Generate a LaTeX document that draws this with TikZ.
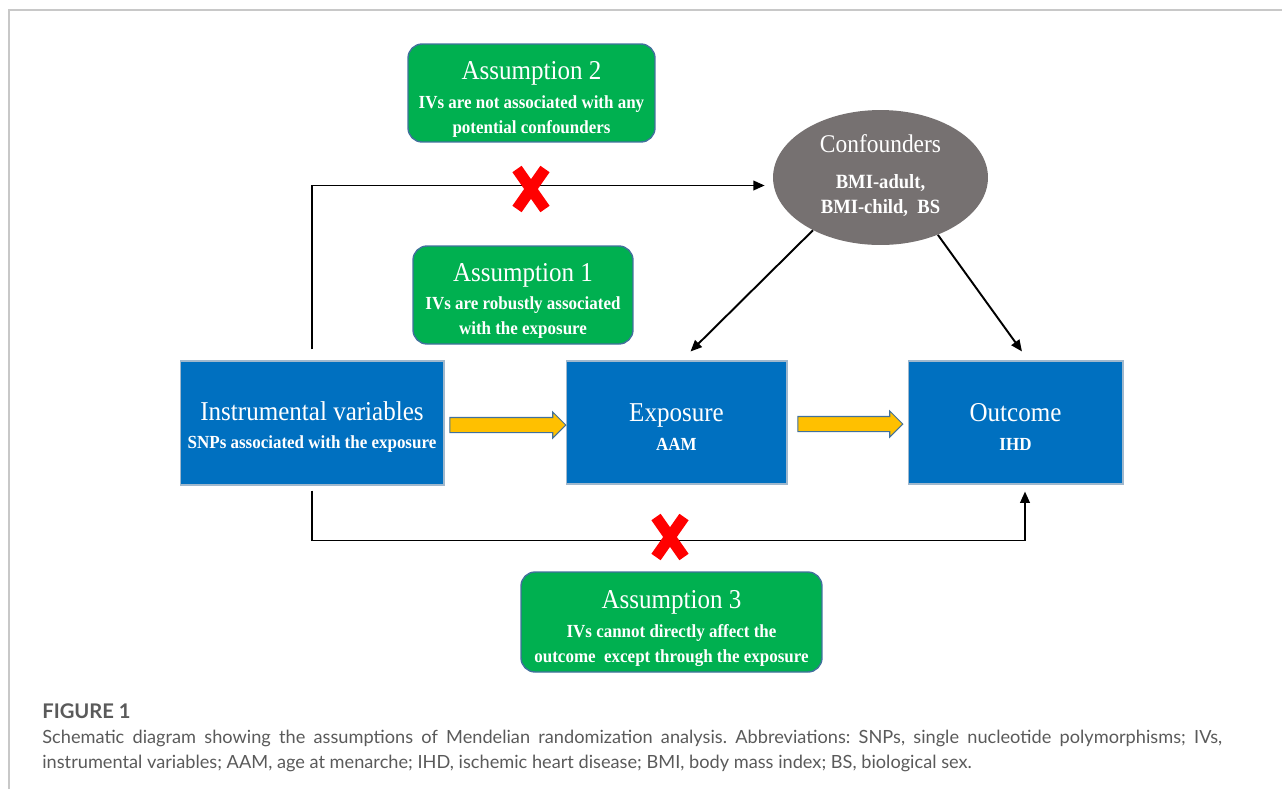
\documentclass[tikz,border=0pt]{standalone}
\usepackage{fontspec}
\setmainfont{Liberation Serif}
\newfontfamily\boxfont[FakeStretch=0.92]{Liberation Serif}
\newfontfamily\capfont{Lato}
\usetikzlibrary{shapes.geometric,shapes.arrows,arrows.meta}
\definecolor{asmgreen}{RGB}{0,176,80}
\definecolor{asmedge}{RGB}{65,113,156}
\definecolor{varblue}{RGB}{0,112,192}
\definecolor{confgray}{RGB}{118,113,113}
\definecolor{fatyellow}{RGB}{255,192,0}
\definecolor{capgray}{RGB}{90,90,90}
\definecolor{framegray}{RGB}{200,200,200}
% title line of a box, the strut lowers the whole text block
\newcommand{\asmtitle}[2][0pt]{{\mdseries\fontsize{15.5}{18}\selectfont\rule{0pt}{#1}#2}}
\frenchspacing
\begin{document}
\begin{tikzpicture}[x=0.02cm,y=-0.02cm,>={Triangle[length=6.5pt,width=5.5pt]},
every node/.style={font=\boxfont},
assum/.style={draw=asmedge,line width=0.8pt,rounded corners=8pt,fill=asmgreen,text=white,align=center,inner sep=0pt,font=\boxfont\bfseries\fontsize{10.5}{14.2}\selectfont},
var/.style={draw=asmedge!50,line width=0.6pt,fill=varblue,text=white,align=center,inner sep=0pt,font=\boxfont\bfseries\fontsize{10.5}{14.2}\selectfont},
conf/.style={ellipse,fill=confgray,text=white,align=center,inner sep=0pt,font=\boxfont\bfseries\fontsize{11.5}{14.2}\selectfont},
link/.style={->,line width=1.1pt},
fat/.style={single arrow,draw=asmedge,fill=fatyellow,inner xsep=0pt,inner ysep=0.14cm,single arrow head extend=0.11cm,line width=0.6pt},
cross/.style={red,line width=6.4pt},
capnote/.style={text=capgray,inner sep=0pt,anchor=base west,font=\capfont\fontsize{10.35}{14}\selectfont}]
\useasboundingbox (0,0) rectangle (1282,789);
\draw[framegray,line width=1.2pt] (9,789) -- (9,10) -- (1282,10);
% assumptions
\node[assum,minimum width=4.94cm,minimum height=1.96cm] (a2) at (531.5,93) {\asmtitle[17.5pt]{Assumption 2}\\[2pt]IVs are not associated with any\\potential confounders};
\node[assum,minimum width=4.4cm,minimum height=1.96cm] (a1) at (523,295) {\asmtitle[17pt]{Assumption 1}\\[2pt]IVs are robustly associated\\with the exposure};
\node[assum,minimum width=6.02cm,minimum height=2cm] (a3) at (671.5,622) {\asmtitle[17.5pt]{Assumption 3}\\[2pt]IVs cannot directly affect the\\outcome\ \ except through the exposure};
% variables
\node[var,minimum width=5.28cm,minimum height=2.48cm] (iv) at (312,423) {\asmtitle[15.3pt]{Instrumental variables}\\[2pt]SNPs associated with the exposure};
\node[var,minimum width=4.42cm,minimum height=2.46cm] (exp) at (676.5,422.5) {\asmtitle[15.3pt]{Exposure}\\[2pt]AAM};
\node[var,minimum width=4.3cm,minimum height=2.46cm] (out) at (1015.5,422.5) {\asmtitle[15.3pt]{Outcome}\\[2pt]IHD};
\node[conf,minimum width=4.3cm,minimum height=2.7cm] (conf) at (880.5,177.5) {{\mdseries\fontsize{14.5}{18}\selectfont Confounders}\\[6pt]BMI-adult,\ \\BMI-child,\ \ BS\rule[-4pt]{0pt}{0pt}};
% yellow arrows
\node[fat,minimum height=2.32cm] (f1) at (504,425) {};
\node[fat,minimum height=2.1cm] (f2) at (846.5,424) {};
% connectors
\draw[link,shorten <=0.22cm] (iv.north) |- ([yshift=-0.16cm,xshift=-0.16cm]conf.west);
\draw[link,shorten <=0.1cm,shorten >=0.14cm] (iv.south) -- ++(0,55) -| ([xshift=0.19cm]out.south);
\draw[link] (conf.218) -- ([xshift=0.28cm,yshift=0.18cm]exp.north);
\draw[link] (conf.315) -- ([xshift=0.13cm,yshift=0.18cm]out.north);
% crosses
\coordinate (x2) at (531,189);
\coordinate (x3) at (670,537);
\draw[cross] (x2) +(-14,-20) -- +(14,20) (x2) +(-14,20) -- +(14,-20);
\draw[cross] (x3) +(-14,-20) -- +(14,20) (x3) +(-14,20) -- +(14,-20);
% caption
\node[capnote,font=\capfont\bfseries\fontsize{11.5}{14}\selectfont] (fig) at (42,718) {FIGURE 1};
\node[capnote] (cap1) at (42,743) {\makebox[23.6cm][s]{Schematic diagram showing the assumptions of Mendelian randomization analysis. Abbreviations: SNPs, single nucleotide polymorphisms; IVs,}};
\node[capnote] (cap2) at (42,768) {instrumental variables; AAM, age at menarche; IHD, ischemic heart disease; BMI, body mass index; BS, biological sex.};
\end{tikzpicture}
\end{document}
